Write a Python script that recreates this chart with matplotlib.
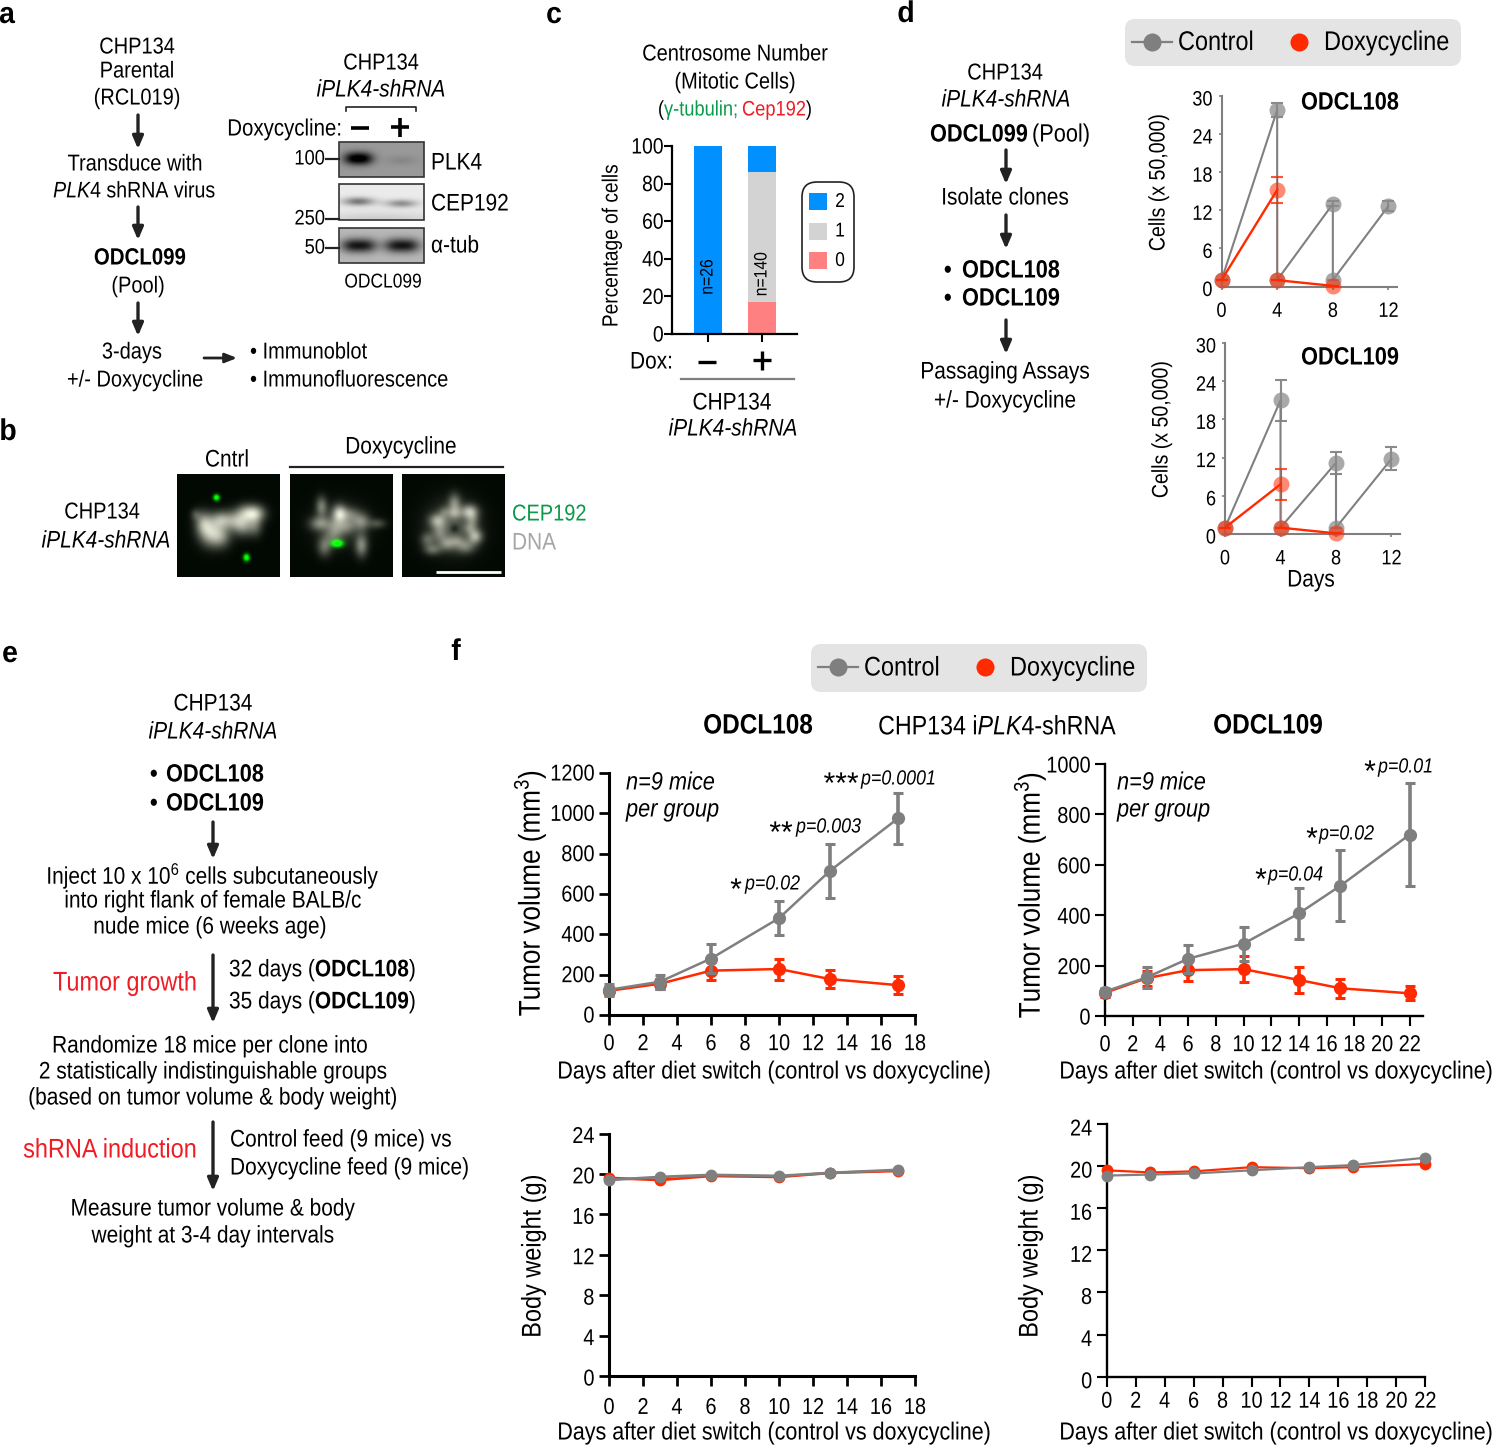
import numpy as np
import matplotlib
matplotlib.use('Agg')
from matplotlib import pyplot as plt
from matplotlib.patches import FancyBboxPatch, Rectangle
from matplotlib.patheffects import AbstractPathEffect
from matplotlib.transforms import Affine2D

W, H = 1493, 1447
plt.rcParams['font.family'] = ['Liberation Sans', 'DejaVu Sans']
plt.rcParams['mathtext.fontset'] = 'custom'
plt.rcParams['mathtext.rm'] = 'Liberation Sans'
plt.rcParams['mathtext.it'] = 'Liberation Sans:italic'
plt.rcParams['mathtext.bf'] = 'Liberation Sans:bold'

GRAY = '#7f7f7f'
RED = '#ff2a00'
NARROW = 0.87  # the figure uses a condensed Arial

# panel c
centro_zero = [0, 17]
centro_one = [0, 69]
centro_two = [100, 14]

# panel d, passaging (each passage restarts at 1)
pass_days_ctrl = [0, 4, 4, 8, 8, 12]
pass_days_dox = [0, 4, 4, 8]
p108_ctrl = [1, 27.8, 1, 13, 1, 12.7]
p108_ctrl_err = [0, 1.1, 0, 0.4, 0, 0.8]
p108_dox = [1, 15.2, 1, 0.1]
p108_dox_err = [0, 2.0, 0, 0]
p109_ctrl = [1, 21, 1, 11.2, 1, 11.8]
p109_ctrl_err = [0, 3.2, 0, 1.7, 0, 1.8]
p109_dox = [1, 7.8, 1, 0.1]
p109_dox_err = [0, 2.4, 0, 0]

# panel f
days_108 = [0, 3, 6, 10, 13, 17]
days_109 = [0, 3, 6, 10, 14, 17, 22]
tv108_ctrl = [125, 165, 280, 480, 715, 975]
tv108_ctrl_err = [30, 35, 70, 85, 133, 128]
tv108_dox = [120, 155, 220, 228, 178, 148]
tv108_dox_err = [20, 25, 45, 52, 45, 45]
tv109_ctrl = [97, 153, 227, 287, 407, 517, 720]
tv109_ctrl_err = [15, 42, 55, 68, 102, 140, 205]
tv109_dox = [92, 150, 182, 186, 143, 110, 90]
tv109_dox_err = [15, 30, 45, 53, 50, 38, 28]
bw108_ctrl = [19.4, 19.7, 19.9, 19.8, 20.1, 20.4]
bw108_dox = [19.6, 19.4, 19.8, 19.7, 20.1, 20.3]
bw109_ctrl = [19.1, 19.2, 19.3, 19.6, 19.9, 20.1, 20.8]
bw109_dox = [19.6, 19.4, 19.5, 19.9, 19.8, 19.9, 20.2]


class Tall(AbstractPathEffect):
    # text is set smaller, then the glyphs are stretched upward: looks condensed
    def __init__(self, k=NARROW, dy=0):
        super().__init__()
        self.k = k
        self.dy = dy

    def draw_path(self, renderer, gc, tpath, affine, rgbFace=None):
        tall = Affine2D().scale(1, 1 / self.k) + affine + Affine2D().translate(0, self.dy)
        renderer.draw_path(gc, tpath, tall, rgbFace)


fig = plt.figure(figsize=(W / 100, H / 100), dpi=100, facecolor='white')
bg = fig.add_axes([0, 0, 1, 1], zorder=0)
bg.set_xlim(0, W)
bg.set_ylim(H, 0)
bg.axis('off')


def T(x, y, s, px=24, ha='center', color='black', k=NARROW, **kw):
    if kw.get('rotation') == 90:
        x = x + 1
    else:
        y = y + 2
    return bg.text(x, y, s, fontsize=px * 0.72 * k, ha=ha, va='center', color=color,
                   path_effects=[Tall(k)], **kw)


def down_arrow(x, y0, y1):
    bg.annotate('', xy=(x, y1), xytext=(x, y0),
                arrowprops=dict(arrowstyle='-|>,head_width=0.32,head_length=0.75', color='#222222', lw=2.4, shrinkA=0, shrinkB=0))


def pixel_axes(x0, x1, ybot, ytop, xlim, ylim):
    ax = fig.add_axes([x0 / W, 1 - ybot / H, (x1 - x0) / W, (ybot - ytop) / H], zorder=2)
    ax.set_xlim(*xlim)
    ax.set_ylim(*ylim)
    ax.patch.set_alpha(0)
    for s in ['top', 'right']:
        ax.spines[s].set_visible(False)
    return ax


def narrow_ticks(ax, ydy=0):
    for lab in ax.get_xticklabels():
        lab.set_path_effects([Tall()])
    for lab in ax.get_yticklabels():
        lab.set_path_effects([Tall(dy=ydy)])


def blobs(size, background, items):
    # items are (x, y, sx, sy, amp) in image pixels
    yy, xx = np.mgrid[0:size[0], 0:size[1]]
    img = np.full(size, float(background))
    for x, y, sx, sy, a in items:
        img += a * np.exp(-((xx - x) ** 2) / (2 * sx ** 2) - ((yy - y) ** 2) / (2 * sy ** 2))
    return np.clip(img, 0, 1)


# ---- panel letters
for s, x, y in [('a', 7, 13), ('b', 8, 430), ('c', 554, 13), ('d', 906, 12), ('e', 10, 652), ('f', 456, 650)]:
    T(x, y, s, px=30, weight='bold', k=0.95)

# ---- panel a
for s, y in [('CHP134', 46), ('Parental', 70), ('(RCL019)', 97)]:
    T(137, y, s, px=23)
down_arrow(138, 115, 149)
T(135, 163, 'Transduce with', px=23)
T(135, 190, r'$\mathit{PLK4}$ shRNA virus', px=22.5)
down_arrow(138, 207, 240)
T(140, 257, 'ODCL099', weight='bold', px=23.5)
T(138, 285, '(Pool)', px=23)
down_arrow(138, 303, 336)
T(132, 351, '3-days', px=23)
T(135, 379, '+/- Doxycycline', px=23)
bg.annotate('', xy=(237, 358), xytext=(204, 358),
            arrowprops=dict(arrowstyle='-|>,head_width=0.28,head_length=0.7', color='#222222', lw=2, shrinkA=0, shrinkB=0))
T(250, 351, '• Immunoblot', ha='left', px=23)
T(250, 379, '• Immunofluorescence', ha='left', px=23)

T(381, 62, 'CHP134', px=23)
T(381, 89, 'iPLK4-shRNA', style='italic')
bg.plot([346, 346, 416, 416], [111, 107, 107, 111], color='#222222', lw=1.2)
T(342, 128, 'Doxycycline:', ha='right', px=23.5)
bg.plot([351, 369], [128, 128], color='black', lw=2.6, solid_capstyle='butt')
bg.plot([400, 400], [118, 137], color='black', lw=2.6, solid_capstyle='butt')
bg.plot([391, 409], [127, 127], color='black', lw=2.6, solid_capstyle='butt')

blot_rows = [
    (142, 177, 0.6, [(13, 16, 7, 4.5, -0.5), (25, 16, 7, 4.5, -0.5), (62, 18, 11, 3.5, -0.07)]),
    (184, 220, 0.92, [(19, 17, 11, 3, -0.45), (62, 19, 11, 2.8, -0.36), (40, 35, 45, 5, -0.12)]),
    (228, 263, 0.72, [(12, 17, 8, 5, -0.5), (27, 17, 8, 5, -0.5), (55, 17, 8, 5, -0.5), (70, 17, 8, 5, -0.5)]),
]
for y0, y1, base, bands in blot_rows:
    img = blobs((y1 - y0, 85), base, bands)
    bg.imshow(img, extent=(339, 424, y1, y0), cmap='gray', vmin=0, vmax=1, aspect='auto', interpolation='bilinear', zorder=1)
    bg.add_patch(Rectangle((339, y0), 85, y1 - y0, fill=False, ec='#333333', lw=1.2, zorder=2))
for s, y in [('100', 159), ('250', 219), ('50', 248)]:
    T(325, y - 1, s, ha='right', px=21)
    bg.plot([326, 339], [y, y], color='#222222', lw=1.6)
T(431, 162, 'PLK4', ha='left')
T(431, 203, 'CEP192', ha='left')
T(431, 245, 'α-tub', ha='left')
T(383, 281, 'ODCL099', px=20)

# ---- panel b
T(227, 459, 'Cntrl')
T(401, 446, 'Doxycycline')
bg.plot([290, 503], [467, 467], color='#222222', lw=1.6)
T(102, 511, 'CHP134', px=23)
T(106, 540, 'iPLK4-shRNA', style='italic')
T(512, 513, 'CEP192', ha='left', color='#0a9a49', px=23)
T(512, 542, 'DNA', ha='left', color='#a6a6a6')

micro_dna = [
    [(33, 59, 8, 9, .62), (26, 48, 6, 8, .5), (44, 62, 7, 8, .4), (42, 45, 7, 6, .42), (56, 46, 9, 7, .5),
     (78, 39, 7, 6, .62), (68, 38, 7, 6, .42), (66, 52, 7, 7, .42), (78, 52, 5, 7, .3), (18, 40, 3.5, 4, .2)],
    [(50, 50, 17, 14, .22), (31, 32, 4, 7, .42), (49, 39, 5, 6, .65), (29, 49, 7, 5, .42), (71, 47, 6, 6, .42), (87, 49, 6, 3.5, .26),
     (34, 72, 5, 7, .38), (71, 71, 4.5, 8, .48), (47, 52, 7, 6, .3), (60, 40, 6, 5, .28), (43, 62, 6, 6, .25), (58, 52, 5, 5, .2)],
    [(50, 52, 17, 17, .3), (52, 54, 3, 3, -.18), (52, 29, 4.5, 7, .42), (35, 46, 6, 5, .48), (67, 37, 6, 5, .55), (73, 62, 5, 5, .55), (30, 75, 6, 4, .34),
     (45, 69, 6, 5, .38), (63, 72, 7, 5, .38), (52, 39, 5, 4, .28), (25, 65, 5, 5, .3), (70, 47, 4.5, 7, .32),
     (37, 58, 5, 6, .28), (55, 66, 5, 4, .2), (42, 37, 4, 4, .2), (66, 54, 4, 4, .18)],
]
micro_green = [
    [(39, 23, 2.2, 2.2, 1.2), (69, 83, 2.2, 2.6, 1.2)],
    [(47, 69, 4.2, 2.6, 1.2)],
    [],
]
for x0, dna, green in zip([177, 289.5, 401.5], micro_dna, micro_green):
    g = blobs((103, 103), 0.01, dna)
    c = blobs((103, 103), 0.0, green)
    rgb = np.dstack([g * (1 - c * 0.8), np.clip(g * 0.98 + c + 0.025, 0, 1), g * (1 - c * 0.8) * 0.93])
    bg.imshow(rgb, extent=(x0, x0 + 103, 577, 474), aspect='auto', interpolation='bilinear')
bg.set_xlim(0, W)
bg.set_ylim(H, 0)
bg.plot([436, 501], [571.5, 571.5], color='white', lw=2, solid_capstyle='butt')

# ---- panel c
T(735, 53, 'Centrosome Number', px=23)
T(735, 81, '(Mitotic Cells)', px=23)
T(661, 109, '(', px=21)
T(664, 109, 'γ-tubulin', ha='left', color='#0a9a49', px=21)
T(733, 109, ';', ha='left', color='#0a9a49', px=21)
T(742, 109, 'Cep192', ha='left', color='#ee1c25', px=21)
T(809, 109, ')', px=21)
ax_c = pixel_axes(672, 797, 334, 146, (672, 797), (0, 100))
bar_x = [708, 761.5]
ax_c.bar(bar_x, centro_zero, width=28, color='#ff8080')
ax_c.bar(bar_x, centro_one, width=28, bottom=centro_zero, color='#d3d3d3')
ax_c.bar(bar_x, centro_two, width=28, bottom=np.add(centro_zero, centro_one), color='#0090ff')
for s in ['left', 'bottom']:
    ax_c.spines[s].set_linewidth(1.6)
ax_c.set_xticks(bar_x)
ax_c.set_xticklabels([])
ax_c.set_yticks(range(0, 101, 20))
ax_c.tick_params(labelsize=16 * NARROW, length=6, width=1.5, pad=0)
narrow_ticks(ax_c, ydy=-1)
for x, y, s in [(708, 277, 'n=26'), (762, 274, 'n=140')]:
    ax_c.text(x, (334 - y) / 188 * 100, s, rotation=90, fontsize=13 * NARROW, ha='center', va='center',
              path_effects=[Tall()], zorder=5)
T(612, 246, 'Percentage of cells', rotation=90, px=22)
bg.add_patch(FancyBboxPatch((802, 182), 52, 100, boxstyle='round,pad=0,rounding_size=15', fc='white', ec='#222222', lw=1.2))
for s, y, col in [('2', 201.5, '#0090ff'), ('1', 231, '#d3d3d3'), ('0', 260.5, '#ff8080')]:
    bg.add_patch(Rectangle((809, y - 8.5), 18, 17, color=col, lw=0))
    T(840, y - 1, s, px=20)
T(630, 361, 'Dox:', ha='left')
bg.plot([698, 716], [362, 362], color='black', lw=2.4, solid_capstyle='butt')
bg.plot([762, 762], [351, 370], color='black', lw=2.4, solid_capstyle='butt')
bg.plot([753, 771], [360, 360], color='black', lw=2.4, solid_capstyle='butt')
bg.plot([681, 794], [379, 379], color=GRAY, lw=1.6)
T(732, 402, 'CHP134')
T(733, 428, 'iPLK4-shRNA', style='italic')

# ---- panel d
T(1005, 72, 'CHP134', px=23)
T(1006, 99, 'iPLK4-shRNA', style='italic')
T(930, 134, 'ODCL099', ha='left', weight='bold', px=25)
T(1032, 134, '(Pool)', ha='left', px=25)
down_arrow(1006, 150, 184)
T(1005, 197, 'Isolate clones')
down_arrow(1006, 215, 249)
T(944, 270, '•', ha='left', px=25, weight='bold')
T(962, 270, 'ODCL108', ha='left', px=25, weight='bold')
T(944, 298, '•', ha='left', px=25, weight='bold')
T(962, 298, 'ODCL109', ha='left', px=25, weight='bold')
down_arrow(1006, 320, 354)
T(1005, 371, 'Passaging Assays')
T(1005, 400, '+/- Doxycycline')


def legend_box(x0, y0, x1, y1):
    bg.add_patch(FancyBboxPatch((x0, y0), x1 - x0, y1 - y0, boxstyle='round,pad=0,rounding_size=10', fc='#e4e4e4', ec='none'))
    ym = (y0 + y1) / 2 - 1
    bg.plot([x0 + 7, x0 + 47], [ym, ym], color=GRAY, lw=1.6)
    bg.plot([x0 + 27], [ym], color=GRAY, marker='o', ms=13, mew=0)
    T(x0 + 53, ym, 'Control', ha='left', px=27)
    bg.plot([x0 + 174], [ym], color=RED, marker='o', ms=13, mew=0)
    T(x0 + 199, ym, 'Doxycycline', ha='left', px=27)


legend_box(1125, 19, 1461, 66)
T(1350, 102, 'ODCL108', weight='bold', px=25)
T(1350, 357, 'ODCL109', weight='bold', px=25)
T(1158, 182, 'Cells (x 50,000)', rotation=90, px=22.5)
T(1161, 429, 'Cells (x 50,000)', rotation=90, px=22.5)
T(1311, 579, 'Days')


def passage_panel(x0, x1, ybot, ytop, ctrl, ctrl_err, dox, dox_err):
    per_day = (x1 - x0) / 12
    ax = pixel_axes(x0, x1 + 9, ybot, ytop, (0, (x1 + 9 - x0) / per_day), (0, 30))
    ax.errorbar(pass_days_ctrl, ctrl, yerr=ctrl_err, color='#8a8a8a', capsize=4.5, capthick=1.5, elinewidth=1.5, clip_on=False, zorder=3, fmt='none')
    ax.plot(pass_days_ctrl, ctrl, color='#808080', lw=1.5, clip_on=False, zorder=3)
    ax.plot(pass_days_ctrl, ctrl, 'o', color='#8c8c8c', ms=11.5, mew=0, alpha=0.75, clip_on=False, zorder=4)
    ax.errorbar(pass_days_dox, dox, yerr=dox_err, color=RED, capsize=4.5, capthick=1.5, elinewidth=0.8, clip_on=False, zorder=5, fmt='none', alpha=0.8)
    ax.plot(pass_days_dox[:2], dox[:2], color=RED, lw=1.7, clip_on=False, zorder=5)
    ax.plot(pass_days_dox[1:3], dox[1:3], color=RED, lw=1, alpha=0.3, clip_on=False, zorder=5)
    ax.plot(pass_days_dox[2:], dox[2:], color=RED, lw=1.7, clip_on=False, zorder=5)
    ax.plot(pass_days_dox, dox, 'o', color=RED, ms=11.5, mew=0, alpha=0.55, clip_on=False, zorder=6)
    for s in ['left', 'bottom']:
        ax.spines[s].set_color(GRAY)
        ax.spines[s].set_linewidth(1.5)
    ax.set_xticks([0, 4, 8, 12])
    ax.set_yticks(range(0, 31, 6))
    ax.tick_params(labelsize=15 * NARROW, length=2.5, width=1.2, color=GRAY, pad=10)
    ax.tick_params(axis='y', pad=4)
    narrow_ticks(ax, ydy=-3)
    return ax


passage_panel(1221.5, 1388.5, 286.5, 96, p108_ctrl, p108_ctrl_err, p108_dox, p108_dox_err)
passage_panel(1225, 1391.5, 534, 343, p109_ctrl, p109_ctrl_err, p109_dox, p109_dox_err)

# ---- panel e
T(213, 703, 'CHP134')
T(213, 731, 'iPLK4-shRNA', style='italic')
T(150, 774, '•', ha='left', px=25, weight='bold')
T(166, 774, 'ODCL108', ha='left', px=25, weight='bold')
T(150, 803, '•', ha='left', px=25, weight='bold')
T(166, 803, 'ODCL109', ha='left', px=25, weight='bold')
down_arrow(213, 822, 859)
T(213, 875, 'Inject 10 x 10$^{6}$ cells subcutaneously')
T(213, 900, 'into right flank of female BALB/c')
T(210, 926, 'nude mice (6 weeks age)')
T(125, 982, 'Tumor growth', color='#ee1c25', px=27)
down_arrow(213, 955, 1023)
T(229, 969, r'32 days ($\mathbf{ODCL108}$)', ha='left')
T(229, 1001, r'35 days ($\mathbf{ODCL109}$)', ha='left')
T(210, 1045, 'Randomize 18 mice per clone into')
T(213, 1071, '2 statistically indistinguishable groups')
T(213, 1097, '(based on tumor volume & body weight)')
T(110, 1149, 'shRNA induction', color='#ee1c25', px=27)
down_arrow(213, 1122, 1191)
T(230, 1139, 'Control feed (9 mice) vs', ha='left')
T(230, 1167, 'Doxycycline feed (9 mice)', ha='left')
T(213, 1208, 'Measure tumor volume & body')
T(213, 1235, 'weight at 3-4 day intervals')

# ---- panel f
legend_box(811, 644, 1147, 692)
T(758, 725, 'ODCL108', weight='bold', px=28)
T(998, 726, r'CHP134 i$\mathit{PLK4}$-shRNA', px=26.7)
T(1268, 725, 'ODCL109', weight='bold', px=28)


def growth_axes(x0, x1, ybot, ytop, xlim, ymax, yticks, xticks, lw, xpad=7, ydy=0):
    ax = pixel_axes(x0, x1, ybot, ytop, xlim, (0, ymax))
    for s in ['left', 'bottom']:
        ax.spines[s].set_linewidth(lw)
        ax.spines[s].set_color('black')
    ax.set_xticks(xticks)
    ax.set_yticks(yticks)
    ax.tick_params(labelsize=16.5 * NARROW, length=7.5, width=lw * 0.9, pad=3)
    ax.tick_params(axis='x', pad=xpad)
    narrow_ticks(ax, ydy=ydy)
    return ax


def draw_series(ax, days, vals, err, color, z, ms=9.5, lw=1.8):
    if err is not None:
        ax.errorbar(days, vals, yerr=err, fmt='none', ecolor=color, elinewidth=2.6, capsize=3.5, capthick=2.2, clip_on=False, zorder=z)
    ax.plot(days, vals, color=color, lw=lw, marker='o', ms=ms, mew=0, clip_on=False, zorder=z + 1)


ax = growth_axes(609, 915, 1015, 773, (0, 18), 1200, range(0, 1201, 200), range(0, 19, 2), 2.2)
draw_series(ax, days_108, tv108_dox, tv108_dox_err, RED, 3)
draw_series(ax, days_108, tv108_ctrl, tv108_ctrl_err, GRAY, 5)

ax = growth_axes(1105, 1423, 1016, 764, (0, 318 / (304.7 / 22)), 1000, range(0, 1001, 200), range(0, 23, 2), 1.7, ydy=-1)
draw_series(ax, days_109, tv109_dox, tv109_dox_err, RED, 3)
draw_series(ax, days_109, tv109_ctrl, tv109_ctrl_err, GRAY, 5)

ax = growth_axes(609, 915, 1376, 1133.5, (0, 18), 24, range(0, 25, 4), range(0, 19, 2), 2.2, xpad=9, ydy=-2)
draw_series(ax, days_108, bw108_dox, None, RED, 3, ms=8.5, lw=2)
draw_series(ax, days_108, bw108_ctrl, None, GRAY, 5, ms=8.5, lw=2)

ax = growth_axes(1106.7, 1425.3, 1376.7, 1124, (0, 22), 24, range(0, 25, 4), range(0, 23, 2), 1.7, xpad=4, ydy=-4)
draw_series(ax, days_109, bw109_dox, None, RED, 3, ms=8.5, lw=1.6)
draw_series(ax, days_109, bw109_ctrl, None, GRAY, 5, ms=8.5, lw=1.6)

T(530, 893, 'Tumor volume (mm$^{3}$)', rotation=90, px=30)
T(1030, 895, 'Tumor volume (mm$^{3}$)', rotation=90, px=30)
T(533, 1256, 'Body weight (g)', rotation=90, px=27)
T(1030, 1256, 'Body weight (g)', rotation=90, px=27)
for x, y in [(774, 1071), (1276, 1071), (774, 1432), (1276, 1432)]:
    T(x, y, 'Days after diet switch (control vs doxycycline)', px=24.7)
for x in [626, 1117]:
    T(x, 782, 'n=9 mice', ha='left', style='italic', px=25)
    T(x, 809, 'per group', ha='left', style='italic', px=25)
for stars, sx, sy, p, px_, py in [
    ('*', 736, 889, 'p=0.02', 745, 883),
    ('**', 781, 832, 'p=0.003', 796, 826),
    ('***', 841, 783, 'p=0.0001', 861, 778),
    ('*', 1261, 879, 'p=0.04', 1268, 874),
    ('*', 1312, 838, 'p=0.02', 1319, 833),
    ('*', 1370, 771, 'p=0.01', 1378, 766),
]:
    T(sx, sy, stars, px=30, k=1)
    T(px_, py, p, ha='left', style='italic', px=20.5)

fig.savefig('out.png', dpi=100)
